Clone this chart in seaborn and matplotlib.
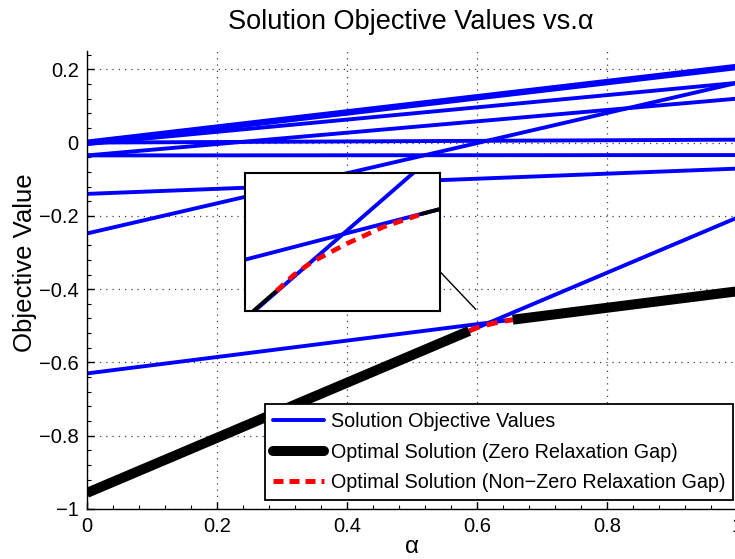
import numpy as np
import pandas as pd
import matplotlib
matplotlib.use("Agg")
import matplotlib.pyplot as plt
import seaborn as sns
from matplotlib.lines import Line2D
from matplotlib.patches import ConnectionPatch
from matplotlib.ticker import MultipleLocator

# ---------------- data ----------------
alpha_ends = [0.0, 1.0]
line_ids = ["L1", "L2", "L3", "L4", "L5", "L6", "L7", "L8", "L9", "L10"]
start_values = [0.003, -0.004, -0.004, 0.0, -0.035, -0.035, -0.14, -0.248, -0.63, -0.956]
end_values = [0.21, 0.203, 0.163, 0.008, 0.12, -0.034, -0.071, 0.163, -0.406, -0.205]

# optimal solution with zero relaxation gap (two pieces)
opt_a_alpha = [0.0, 0.588]
opt_a_value = [-0.956, -0.514]
opt_b_alpha = [0.655, 1.0]
opt_b_value = [-0.4833, -0.406]

# optimal solution with non-zero relaxation gap
gap_alpha = [0.588, 0.5958, 0.6043, 0.6204, 0.6373, 0.6546, 0.655]
gap_value = [-0.514, -0.5078, -0.5025, -0.4952, -0.4885, -0.4835, -0.4833]

x_ticks = [0, 0.2, 0.4, 0.6, 0.8, 1.0]
x_tick_labels = ["0", "0.2", "0.4", "0.6", "0.8", "1"]
y_ticks = [-1, -0.8, -0.6, -0.4, -0.2, 0, 0.2]
y_tick_labels = ["\u22121", "\u22120.8", "\u22120.6", "\u22120.4", "\u22120.2", "0", "0.2"]

legend_labels = ["Solution Objective Values",
                 "Optimal Solution (Zero Relaxation Gap)",
                 "Optimal Solution (Non\u2212Zero Relaxation Gap)"]

# ---------------- frames ----------------
rows = []
for lid, s, e in zip(line_ids, start_values, end_values):
    rows.append({"line": lid, "alpha": alpha_ends[0], "value": s})
    rows.append({"line": lid, "alpha": alpha_ends[1], "value": e})
df_lines = pd.DataFrame(rows)
df_opt = pd.DataFrame({
    "alpha": opt_a_alpha + opt_b_alpha,
    "value": opt_a_value + opt_b_value,
    "seg": ["a"] * len(opt_a_alpha) + ["b"] * len(opt_b_alpha),
})
df_gap = pd.DataFrame({"alpha": gap_alpha, "value": gap_value})

sns.set_theme(style="white")
plt.rcParams["font.family"] = ["Liberation Sans", "DejaVu Sans"]
plt.rcParams["text.color"] = "black"
plt.rcParams["axes.labelcolor"] = "black"
plt.rcParams["xtick.color"] = "black"
plt.rcParams["ytick.color"] = "black"

W, H = 735, 559
fig = plt.figure(figsize=(W / 100, H / 100), dpi=100)
ax = fig.add_axes([87 / W, (H - 509) / H, 650 / W, 458 / H])

BLUE = "#0000ff"
blue_lw = 2.8

sns.lineplot(data=df_lines, x="alpha", y="value", units="line", estimator=None,
             color=BLUE, lw=blue_lw, ax=ax, legend=False, sort=False)
sns.lineplot(data=df_opt, x="alpha", y="value", units="seg", estimator=None,
             color="black", lw=7.2, ax=ax, legend=False, sort=False,
             solid_capstyle="butt")
sns.lineplot(data=df_gap, x="alpha", y="value", estimator=None, color="red",
             lw=3.6, ax=ax, legend=False, sort=False,
             linestyle=(0, (2.2, 1.5)), dash_capstyle="butt")

ax.set_xlim(0, 1)
ax.set_ylim(-1, 0.25)
ax.set_xticks(x_ticks)
ax.set_xticklabels(x_tick_labels)
ax.set_yticks(y_ticks)
ax.set_yticklabels(y_tick_labels)
ax.xaxis.set_minor_locator(MultipleLocator(0.04))
ax.yaxis.set_minor_locator(MultipleLocator(0.04))
ax.tick_params(which="both", direction="in", top=False, right=False,
               left=True, bottom=True, labelsize=14.5, colors="black")
ax.tick_params(which="major", length=5, width=1, pad=6)
ax.tick_params(which="minor", length=3, width=0.8)
ax.grid(True, which="major", linestyle=(0, (1, 4)), color="0.25", lw=0.9)
for side in ["top", "right"]:
    ax.spines[side].set_visible(False)
for side in ["left", "bottom"]:
    ax.spines[side].set_color("black")
    ax.spines[side].set_linewidth(1.0)

ax.set_xlabel("\u03b1", fontsize=17.5)
ax.set_ylabel("Objective Value", fontsize=18.5)
ax.xaxis.set_label_coords(0.5, -0.058)
ax.yaxis.set_label_coords(-0.077, 0.537)

fig.text(411 / W, 1 - 22 / H, "Solution Objective Values vs.\u03b1",
         ha="center", va="center", fontsize=19.5, color="black")

handles = [
    Line2D([], [], color=BLUE, lw=blue_lw),
    Line2D([], [], color="black", lw=7.2),
    Line2D([], [], color="red", lw=3.6, linestyle=(0, (2.0, 1.2))),
]
leg = ax.legend(handles, legend_labels, loc="lower right",
                bbox_to_anchor=(0.994, 0.02), borderaxespad=0,
                fontsize=14.2, frameon=True, fancybox=False, framealpha=1,
                edgecolor="black", handlelength=2.6, handletextpad=0.35,
                labelspacing=0.6, borderpad=0.38)
leg.get_frame().set_linewidth(1.3)

# ---------------- inset ----------------
ax_in = fig.add_axes([245 / W, (H - 311) / H, 195 / W, 138 / H])
ax_in.set_zorder(5)
ax_in.set_facecolor("white")
sns.lineplot(data=df_lines, x="alpha", y="value", units="line", estimator=None,
             color=BLUE, lw=2.8, ax=ax_in, legend=False, sort=False)
sns.lineplot(data=df_opt, x="alpha", y="value", units="seg", estimator=None,
             color="black", lw=2.8, ax=ax_in, legend=False, sort=False)
sns.lineplot(data=df_gap, x="alpha", y="value", estimator=None, color="red",
             lw=3.4, ax=ax_in, legend=False, sort=False,
             linestyle=(0, (2.1, 1.5)), dash_capstyle="butt")
ax_in.set_xlim(0.5735, 0.6635)
ax_in.set_ylim(-0.522, -0.467)
ax_in.set_xticks([])
ax_in.set_yticks([])
ax_in.set_xlabel("")
ax_in.set_ylabel("")
ax_in.grid(False)
for sp in ax_in.spines.values():
    sp.set_visible(True)
    sp.set_color("black")
    sp.set_linewidth(1.5)

con = ConnectionPatch(xyA=(1.0, 0.285), coordsA=ax_in.transAxes,
                      xyB=(0.598, -0.455), coordsB=ax.transData,
                      color="black", lw=1.0)
fig.add_artist(con)

fig.savefig("out.png", dpi=100)
